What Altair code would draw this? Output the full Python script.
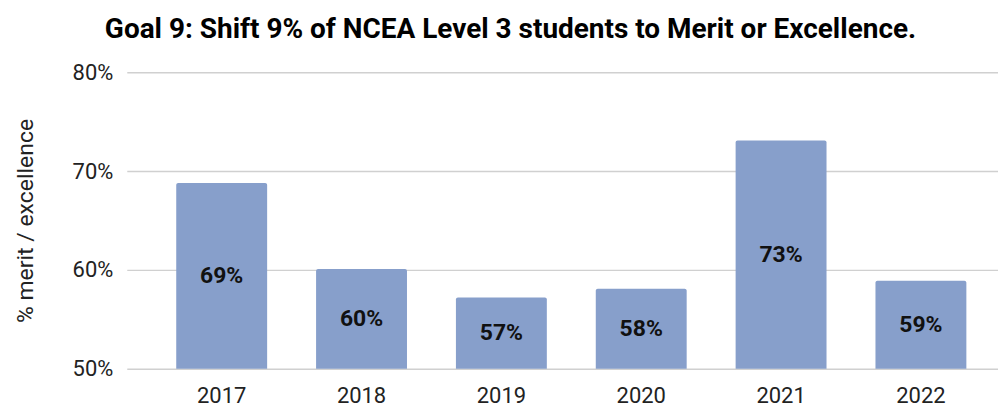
import altair as alt
import pandas as pd

years = ["2017", "2018", "2019", "2020", "2021", "2022"]
values = [68.8, 60.1, 57.2, 58.1, 73.1, 58.9]
labels = ["69%", "60%", "57%", "58%", "73%", "59%"]
base_value = 50

df = pd.DataFrame({"year": years, "value": values, "label": labels})
df["base"] = base_value
df["mid"] = (df["value"] + df["base"]) / 2

FONT = "Roboto"

x_enc = alt.X(
    "year:N",
    title=None,
    sort=years,
    scale=alt.Scale(paddingInner=0.35, paddingOuter=0.29, align=0.61),
    axis=alt.Axis(
        labelAngle=0, labelFontSize=22, labelColor="#222222", labelFont=FONT,
        labelPadding=17, domain=False, ticks=False, grid=False,
    ),
)

bars = alt.Chart(df).mark_bar(
    color="#879fcb", cornerRadiusTopLeft=2, cornerRadiusTopRight=2
).encode(
    x=x_enc,
    y=alt.Y(
        "value:Q",
        title="% merit / excellence",
        scale=alt.Scale(domain=[50, 80], zero=False, nice=False),
        axis=alt.Axis(
            values=[50, 60, 70, 80], labelExpr="datum.value + '%'",
            labelFontSize=22, labelColor="#222222", labelFont=FONT, labelPadding=14,
            titleFontSize=23, titleFont=FONT, titleFontWeight="normal", titleColor="#222222",
            titlePadding=35, domain=False, ticks=False,
            grid=True, gridColor="#d0d0d0", gridWidth=1.5,
        ),
    ),
    y2="base:Q",
)

text = alt.Chart(df).mark_text(
    font=FONT, fontSize=23, fontWeight="bold", color="#111111", baseline="middle"
).encode(
    x=alt.X("year:N", sort=years),
    y=alt.Y("mid:Q"),
    text="label:N",
)

chart = alt.layer(bars, text).properties(
    width=873,
    height=297,
    autosize=alt.AutoSizeParams(type="none"),
    padding={"left": 119, "top": 64, "right": 0, "bottom": 40},
    title=alt.Title(
        "Goal 9: Shift 9% of NCEA Level 3 students to Merit or Excellence.",
        font=FONT, fontSize=28, fontWeight="bold", color="#000000",
        anchor="middle", offset=17, dx=-52,
    ),
).configure_view(stroke=None)

chart.save("out.html", embed_options={"renderer": "svg", "actions": False})
